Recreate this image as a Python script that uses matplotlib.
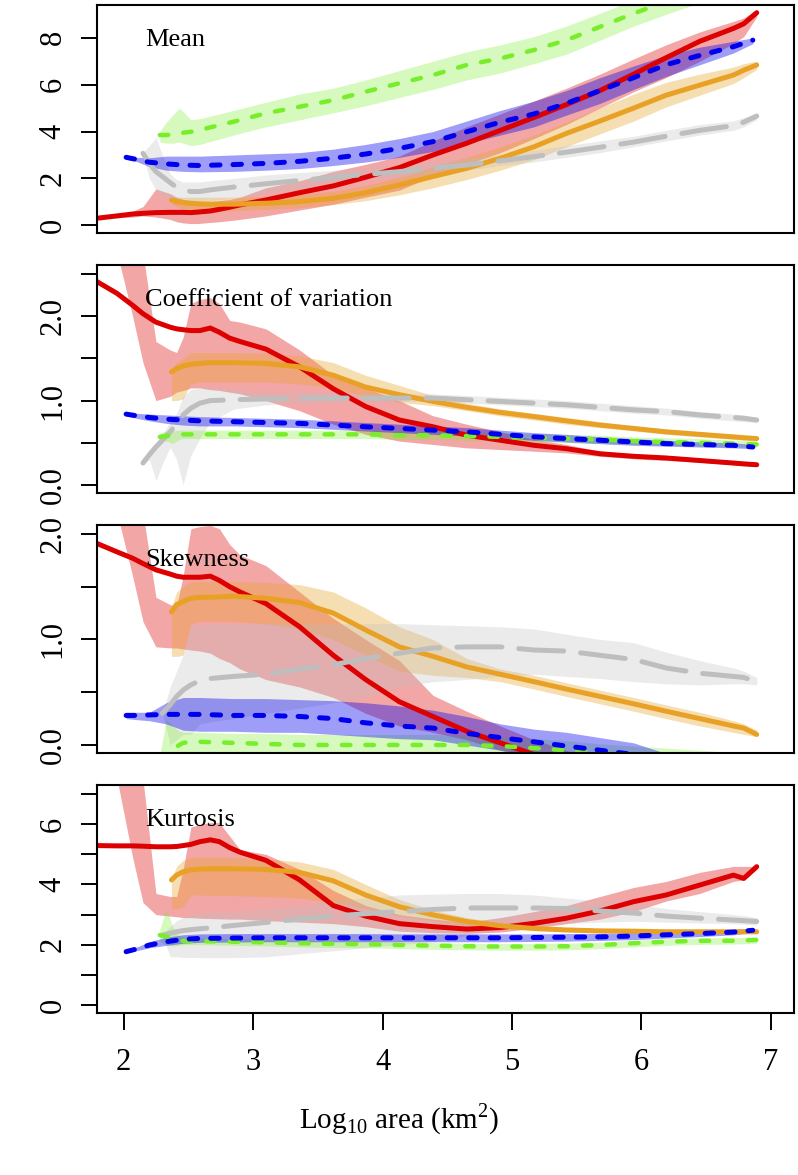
import numpy as np
import matplotlib
matplotlib.use("Agg")
import matplotlib.pyplot as plt

nan = np.nan

# x positions (log10 area) for each series
red_x = [1.795, 1.95, 2.07, 2.15, 2.25, 2.36, 2.41, 2.46, 2.52, 2.59, 2.67, 2.74, 2.82, 2.9, 3.1, 3.36,
         3.62, 3.87, 4.13, 4.39, 4.65, 4.91, 5.17, 5.42, 5.68, 5.94, 6.19, 6.45, 6.71, 6.79, 6.89]
blue_x = [2.02, 2.1, 2.2, 2.33, 2.46, 2.59, 2.85, 3.1, 3.36, 3.62, 3.87, 4.13, 4.39, 4.65, 4.91, 5.17,
          5.42, 5.68, 5.94, 6.19, 6.45, 6.71, 6.86]
gray_x = [2.15, 2.2, 2.25, 2.3, 2.36, 2.41, 2.46, 2.52, 2.59, 2.67, 2.85, 3.1, 3.36, 3.62, 3.87, 4.13,
          4.39, 4.65, 4.91, 5.17, 5.42, 5.68, 5.94, 6.19, 6.45, 6.71, 6.79, 6.89]
green_x = [2.28, 2.33, 2.38, 2.43, 2.46, 2.52, 2.59, 2.85, 3.1, 3.36, 3.62, 3.87, 4.13, 4.39, 4.65, 4.91,
           5.17, 5.42, 5.68, 5.94, 6.19, 6.45, 6.71, 6.89]
orange_x = [2.37, 2.41, 2.46, 2.52, 2.59, 2.67, 2.85, 3.1, 3.36, 3.62, 3.87, 4.13, 4.39, 4.65, 4.91, 5.17,
            5.42, 5.68, 5.94, 6.19, 6.45, 6.71, 6.79, 6.89]

# ---- Mean ----
mean_red = [0.30, 0.40, 0.48, 0.51, 0.54, 0.55, 0.55, 0.55, 0.54, 0.57, 0.61, 0.68, 0.77, 0.87, 1.08, 1.39,
            1.68, 2.05, 2.46, 3.0, 3.5, 4.05, 4.6, 5.15, 5.75, 6.45, 7.15, 7.85, 8.4, 8.6, 9.07]
mean_red_lo = [nan, 0.32, 0.35, 0.4, 0.35, 0.25, 0.15, 0.1, 0.07, 0.08, 0.12, 0.15, 0.2, 0.25, 0.4, 0.65,
               0.9, 1.2, 1.5, 2.1, 2.6, 3.1, 3.7, 4.3, 5.0, 5.7, 6.3, 7.0, 7.75, 8.05, 8.9]
mean_red_hi = [nan, 0.45, 0.6, 0.8, 1.55, 1.35, 1.2, 1.1, 1.0, 0.95, 1.0, 1.05, 1.1, 1.2, 1.6, 1.9,
               2.3, 2.6, 2.95, 3.6, 4.2, 4.75, 5.3, 5.85, 6.45, 7.1, 7.7, 8.25, 8.7, 8.85, 9.2]
mean_blue = [2.9, 2.81, 2.69, 2.62, 2.57, 2.55, 2.59, 2.64, 2.73, 2.86, 3.04, 3.28, 3.57, 3.99, 4.4, 4.75,
             5.2, 5.75, 6.3, 6.85, 7.25, 7.62, 7.9]
mean_blue_lo = [2.82, 2.72, 2.5, 2.35, 2.3, 2.28, 2.3, 2.35, 2.42, 2.55, 2.7, 2.9, 3.15, 3.5, 3.85, 4.2,
                4.7, 5.2, 5.8, 6.35, 6.85, 7.35, 7.75]
mean_blue_hi = [2.95, 2.9, 2.88, 2.95, 2.95, 2.95, 3.0, 3.05, 3.1, 3.25, 3.45, 3.7, 4.0, 4.45, 4.9, 5.3,
                5.75, 6.3, 6.8, 7.25, 7.6, 7.85, 8.0]
mean_gray = [3.07, 2.64, 2.29, 2.08, 1.82, 1.62, 1.51, 1.44, 1.44, 1.51, 1.63, 1.77, 1.91, 2.05, 2.17, 2.29,
             2.43, 2.57, 2.75, 2.93, 3.12, 3.33, 3.55, 3.8, 4.05, 4.25, 4.4, 4.66]
mean_gray_lo = [3.0, 2.0, 1.5, 1.2, 1.1, 1.05, 1.0, 1.0, 1.0, 1.05, 1.15, 1.35, 1.55, 1.8, 1.95, 2.05,
                2.2, 2.35, 2.55, 2.7, 2.9, 3.1, 3.35, 3.6, 3.85, 4.05, 4.2, 4.5]
mean_gray_hi = [3.1, 3.4, 3.75, 3.0, 2.2, 1.95, 1.85, 1.85, 1.85, 1.9, 2.0, 2.15, 2.25, 2.35, 2.45, 2.55,
                2.7, 2.85, 3.0, 3.2, 3.4, 3.6, 3.8, 4.05, 4.3, 4.45, 4.6, 4.8]
mean_green = [3.85, 3.85, 3.88, 3.92, 3.95, 3.99, 4.07, 4.42, 4.78, 5.06, 5.34, 5.7, 6.06, 6.41, 6.84, 7.12,
              7.48, 7.9, 8.47, 9.04, 9.54, 10.0, 10.5, 10.8]
mean_green_lo = [3.55, 3.5, 3.5, 3.55, 3.5, 3.4, 3.45, 3.85, 4.2, 4.5, 4.8, 5.1, 5.45, 5.8, 6.2, 6.5,
                 6.9, 7.3, 7.9, 8.5, 9.0, 9.5, 10.0, 10.3]
mean_green_hi = [4.0, 4.4, 4.7, 5.0, 4.85, 4.5, 4.55, 4.9, 5.25, 5.6, 5.85, 6.2, 6.6, 7.0, 7.4, 7.7,
                 8.05, 8.5, 9.05, 9.6, 10.1, 10.5, 11.0, 11.3]
mean_orange = [1.08, 1.01, 0.97, 0.94, 0.91, 0.9, 0.9, 0.94, 1.01, 1.15, 1.39, 1.72, 2.08, 2.43, 2.86, 3.35,
               3.92, 4.45, 5.0, 5.55, 5.98, 6.41, 6.62, 6.84]
mean_orange_lo = [0.95, 0.8, 0.7, 0.62, 0.6, 0.6, 0.62, 0.68, 0.75, 0.88, 1.05, 1.3, 1.6, 1.95, 2.35, 2.8,
                  3.35, 3.9, 4.45, 5.05, 5.55, 6.05, 6.3, 6.65]
mean_orange_hi = [1.15, 1.2, 1.2, 1.2, 1.2, 1.2, 1.2, 1.22, 1.3, 1.45, 1.7, 2.05, 2.5, 2.9, 3.35, 3.85,
                  4.4, 5.0, 5.6, 6.1, 6.45, 6.75, 6.9, 7.0]

# ---- Coefficient of variation ----
cv_red = [2.41, 2.27, 2.13, 2.03, 1.93, 1.87, 1.85, 1.84, 1.83, 1.83, 1.86, 1.81, 1.74, 1.7, 1.61, 1.4,
          1.14, 0.93, 0.77, 0.69, 0.59, 0.53, 0.47, 0.43, 0.37, 0.34, 0.32, 0.29, 0.26, 0.25, 0.24]
cv_red_lo = [nan, 2.75, 2.0, 1.45, 1.0, 1.05, 1.1, 1.12, 1.15, 1.15, 1.13, 1.12, 1.1, 1.08, 1.0, 0.88,
             0.72, 0.6, 0.52, 0.48, 0.44, 0.42, 0.4, 0.38, 0.34, 0.31, 0.29, 0.27, 0.24, 0.23, 0.22]
cv_red_hi = [nan, 2.75, 2.75, 2.75, 1.7, 1.6, 1.57, 1.75, 2.15, 2.2, 2.22, 2.15, 1.95, 1.93, 1.85, 1.6,
             1.3, 1.15, 1.0, 0.82, 0.72, 0.63, 0.54, 0.48, 0.4, 0.36, 0.34, 0.31, 0.28, 0.27, 0.26]
cv_blue = [0.84, 0.82, 0.8, 0.78, 0.77, 0.76, 0.75, 0.74, 0.73, 0.71, 0.69, 0.67, 0.65, 0.63, 0.6, 0.57,
           0.55, 0.53, 0.51, 0.49, 0.48, 0.47, 0.45]
cv_blue_lo = [0.82, 0.79, 0.76, 0.73, 0.71, 0.7, 0.7, 0.69, 0.68, 0.66, 0.64, 0.62, 0.6, 0.58, 0.56, 0.53,
              0.51, 0.49, 0.47, 0.46, 0.45, 0.44, 0.43]
cv_blue_hi = [0.86, 0.85, 0.84, 0.83, 0.82, 0.81, 0.8, 0.79, 0.78, 0.76, 0.74, 0.72, 0.7, 0.68, 0.65, 0.62,
              0.6, 0.57, 0.55, 0.53, 0.51, 0.5, 0.48]
cv_gray = [0.26, 0.36, 0.45, 0.53, 0.63, 0.73, 0.83, 0.91, 0.97, 1.0, 1.01, 1.02, 1.03, 1.03, 1.03, 1.03,
           1.03, 1.01, 0.99, 0.97, 0.95, 0.92, 0.89, 0.87, 0.83, 0.8, 0.79, 0.77]
cv_gray_lo = [0.25, 0.3, 0.05, 0.25, 0.45, 0.3, 0.0, 0.35, 0.55, 0.75, 0.9, 0.95, 0.97, 0.98, 0.99, 0.99,
              0.99, 0.97, 0.95, 0.93, 0.91, 0.88, 0.85, 0.83, 0.79, 0.76, 0.75, 0.74]
cv_gray_hi = [0.28, 0.4, 0.5, 0.6, 0.75, 0.85, 1.05, 1.13, 1.15, 1.15, 1.13, 1.1, 1.1, 1.09, 1.08, 1.08,
              1.08, 1.06, 1.04, 1.02, 1.0, 0.97, 0.94, 0.91, 0.87, 0.84, 0.83, 0.8]
cv_green = [0.57, 0.58, 0.59, 0.6, 0.6, 0.6, 0.6, 0.6, 0.6, 0.6, 0.6, 0.6, 0.59, 0.59, 0.58, 0.57,
            0.56, 0.55, 0.54, 0.52, 0.51, 0.5, 0.49, 0.48]
cv_green_lo = [0.52, 0.52, 0.49, 0.54, 0.55, 0.55, 0.55, 0.55, 0.55, 0.55, 0.55, 0.55, 0.54, 0.54, 0.53, 0.52,
               0.51, 0.5, 0.49, 0.48, 0.47, 0.46, 0.45, 0.45]
cv_green_hi = [0.62, 0.64, 0.64, 0.65, 0.65, 0.65, 0.65, 0.65, 0.65, 0.65, 0.65, 0.65, 0.64, 0.64, 0.63, 0.62,
               0.61, 0.6, 0.59, 0.57, 0.56, 0.55, 0.53, 0.52]
cv_orange = [1.34, 1.38, 1.41, 1.43, 1.44, 1.45, 1.45, 1.44, 1.4, 1.3, 1.16, 1.07, 0.99, 0.92, 0.86, 0.81,
             0.76, 0.71, 0.67, 0.63, 0.6, 0.57, 0.56, 0.55]
cv_orange_lo = [1.0, 1.0, 1.02, 1.2, 1.22, 1.22, 1.22, 1.22, 1.2, 1.15, 1.05, 0.98, 0.94, 0.88, 0.82, 0.77,
                0.72, 0.68, 0.64, 0.6, 0.57, 0.54, 0.53, 0.52]
cv_orange_hi = [1.35, 1.45, 1.5, 1.57, 1.57, 1.57, 1.57, 1.56, 1.53, 1.45, 1.3, 1.18, 1.06, 0.97, 0.9, 0.85,
                0.8, 0.75, 0.7, 0.66, 0.63, 0.6, 0.59, 0.58]

# ---- Skewness ----
skew_red = [1.91, 1.83, 1.77, 1.72, 1.66, 1.62, 1.6, 1.59, 1.59, 1.59, 1.6, 1.56, 1.5, 1.45, 1.34, 1.12,
            0.85, 0.62, 0.41, 0.27, 0.13, 0.02, -0.09, -0.18, -0.25, -0.3, -0.35, -0.4, -0.45, -0.46, -0.47]
skew_red_lo = [nan, 2.2, 1.6, 1.17, 0.93, 0.92, 0.92, 0.91, 0.9, 0.89, 0.87, 0.82, 0.78, 0.72, 0.62, 0.55,
               0.45, 0.3, 0.18, 0.12, 0.05, -0.05, -0.15, -0.25, -0.3, -0.35, -0.4, -0.45, -0.5, -0.5, -0.5]
skew_red_hi = [nan, 2.2, 2.2, 2.2, 1.4, 1.33, 1.32, 1.6, 2.05, 2.07, 2.08, 2.05, 1.9, 1.8, 1.7, 1.45,
               1.2, 1.0, 0.8, 0.47, 0.32, 0.18, 0.05, -0.05, -0.15, -0.2, -0.25, -0.3, -0.35, -0.4, -0.4]
skew_blue = [0.28, 0.28, 0.285, 0.29, 0.29, 0.29, 0.28, 0.28, 0.27, 0.25, 0.21, 0.18, 0.16, 0.11, 0.07, 0.03,
             -0.01, -0.05, -0.09, -0.12, -0.15, -0.18, -0.2]
skew_blue_lo = [0.25, 0.24, 0.23, 0.2, 0.14, 0.13, 0.13, 0.12, 0.12, 0.1, 0.08, 0.06, 0.05, 0.0, -0.05, -0.1,
                -0.15, -0.2, -0.25, -0.28, -0.3, -0.32, -0.34]
skew_blue_hi = [0.31, 0.31, 0.31, 0.4, 0.45, 0.45, 0.44, 0.44, 0.43, 0.42, 0.4, 0.37, 0.33, 0.27, 0.2, 0.15,
                0.12, 0.07, 0.02, -0.08, -0.1, -0.12, -0.14]
skew_gray = [nan, nan, nan, 0.3, 0.38, 0.46, 0.52, 0.57, 0.61, 0.63, 0.65, 0.67, 0.72, 0.76, 0.82, 0.87,
             0.92, 0.93, 0.93, 0.9, 0.89, 0.85, 0.81, 0.73, 0.68, 0.65, 0.64, 0.6]
skew_gray_lo = [nan, nan, nan, 0.3, 0.0, 0.05, 0.1, 0.1, 0.2, 0.22, 0.25, 0.3, 0.35, 0.4, 0.45, 0.55,
                0.6, 0.62, 0.65, 0.67, 0.65, 0.63, 0.6, 0.58, 0.57, 0.58, 0.58, 0.57]
skew_gray_hi = [nan, nan, nan, 0.3, 0.55, 0.7, 0.85, 1.13, 1.14, 1.15, 1.15, 1.15, 1.15, 1.15, 1.15, 1.15,
                1.14, 1.13, 1.12, 1.1, 1.05, 1.0, 0.97, 0.88, 0.8, 0.73, 0.7, 0.64]
skew_green = [-0.15, -0.1, -0.04, 0.0, 0.02, 0.03, 0.03, 0.02, 0.01, 0.0, 0.0, 0.0, 0.0, 0.0, 0.0, -0.01,
              -0.03, -0.05, -0.08, -0.1, -0.12, -0.14, -0.16, -0.18]
skew_green_lo = [-0.3, -0.25, -0.2, -0.15, -0.12, -0.1, -0.1, -0.1, -0.1, -0.1, -0.1, -0.1, -0.1, -0.1, -0.1, -0.12,
                 -0.14, -0.17, -0.2, -0.22, -0.25, -0.27, -0.3, -0.3]
skew_green_hi = [-0.1, 0.24, 0.18, 0.13, 0.12, 0.12, 0.12, 0.11, 0.11, 0.1, 0.1, 0.1, 0.1, 0.1, 0.09, 0.08,
                 0.06, 0.04, 0.01, -0.01, -0.03, -0.05, -0.07, -0.09]
skew_orange = [1.26, 1.33, 1.36, 1.39, 1.4, 1.4, 1.41, 1.39, 1.35, 1.25, 1.09, 0.93, 0.84, 0.74, 0.67, 0.6,
               0.53, 0.46, 0.39, 0.32, 0.25, 0.18, 0.16, 0.1]
skew_orange_lo = [0.84, 0.84, 0.85, 1.15, 1.17, 1.17, 1.17, 1.15, 1.1, 1.0, 0.85, 0.7, 0.66, 0.64, 0.6, 0.53,
                  0.46, 0.39, 0.32, 0.25, 0.18, 0.12, 0.1, 0.08]
skew_orange_hi = [1.3, 1.45, 1.5, 1.55, 1.55, 1.55, 1.55, 1.54, 1.52, 1.45, 1.3, 1.12, 1.0, 0.82, 0.72, 0.66,
                  0.59, 0.52, 0.45, 0.38, 0.31, 0.23, 0.2, 0.14]

# ---- Kurtosis ----
kurt_red = [5.29, 5.28, 5.28, 5.27, 5.25, 5.25, 5.26, 5.29, 5.33, 5.42, 5.48, 5.42, 5.22, 5.07, 4.8, 4.15,
            3.3, 2.95, 2.7, 2.6, 2.52, 2.57, 2.71, 2.88, 3.12, 3.43, 3.65, 3.98, 4.31, 4.2, 4.59]
kurt_red_lo = [nan, 7.5, 4.9, 3.4, 3.0, 2.95, 2.93, 2.9, 2.9, 2.88, 2.87, 2.86, 2.85, 2.85, 2.8, 2.75,
               2.7, 2.6, 2.45, 2.4, 2.38, 2.42, 2.55, 2.7, 2.85, 3.1, 3.45, 3.7, 4.1, 4.15, 4.5]
kurt_red_hi = [nan, 7.5, 7.5, 7.5, 3.7, 3.6, 3.6, 4.5, 5.9, 6.0, 6.05, 6.05, 5.6, 5.15, 5.0, 4.5,
               3.8, 3.3, 3.0, 2.85, 2.75, 2.9, 3.1, 3.3, 3.6, 3.9, 4.1, 4.4, 4.6, 4.6, 4.6]
kurt_blue = [1.77, 1.86, 1.99, 2.1, 2.18, 2.21, 2.22, 2.23, 2.23, 2.23, 2.23, 2.23, 2.23, 2.23, 2.23, 2.24,
             2.25, 2.26, 2.29, 2.33, 2.37, 2.42, 2.48]
kurt_blue_lo = [1.74, 1.8, 1.9, 1.98, 2.05, 2.08, 2.09, 2.1, 2.1, 2.1, 2.1, 2.1, 2.1, 2.1, 2.1, 2.11,
                2.12, 2.14, 2.17, 2.22, 2.27, 2.33, 2.4]
kurt_blue_hi = [1.8, 1.92, 2.1, 2.25, 2.33, 2.36, 2.37, 2.37, 2.37, 2.37, 2.37, 2.36, 2.36, 2.36, 2.36, 2.36,
                2.37, 2.38, 2.41, 2.44, 2.47, 2.51, 2.55]
kurt_gray = [nan, nan, nan, 2.32, 2.38, 2.43, 2.47, 2.5, 2.53, 2.56, 2.64, 2.74, 2.85, 2.95, 3.03, 3.1,
             3.17, 3.22, 3.22, 3.22, 3.2, 3.12, 3.05, 2.95, 2.88, 2.82, 2.8, 2.77]
kurt_gray_lo = [nan, nan, nan, 2.3, 1.6, 1.6, 1.58, 1.58, 1.57, 1.57, 1.57, 1.6, 1.7, 1.8, 1.9, 2.0,
                2.1, 2.3, 2.5, 2.6, 2.7, 2.75, 2.78, 2.75, 2.72, 2.7, 2.68, 2.65]
kurt_gray_hi = [nan, nan, nan, 2.35, 2.6, 2.8, 2.9, 3.0, 3.05, 3.08, 3.1, 3.2, 3.3, 3.45, 3.55, 3.65,
                3.68, 3.7, 3.7, 3.65, 3.55, 3.45, 3.35, 3.2, 3.1, 3.0, 2.97, 2.9]
kurt_green = [2.32, 2.27, 2.21, 2.16, 2.13, 2.12, 2.12, 2.1, 2.08, 2.05, 2.03, 2.02, 1.99, 1.97, 1.95, 1.94,
              1.94, 1.95, 1.99, 2.05, 2.1, 2.13, 2.13, 2.16]
kurt_green_lo = [2.1, 2.0, 1.95, 1.98, 2.0, 2.0, 2.0, 1.98, 1.96, 1.93, 1.91, 1.9, 1.87, 1.85, 1.83, 1.82,
                 1.82, 1.83, 1.87, 1.93, 1.98, 2.01, 2.02, 2.05]
kurt_green_hi = [2.5, 3.2, 2.6, 2.3, 2.25, 2.22, 2.22, 2.2, 2.18, 2.15, 2.13, 2.12, 2.09, 2.07, 2.05, 2.04,
                 2.04, 2.05, 2.09, 2.15, 2.2, 2.23, 2.24, 2.26]
kurt_orange = [4.15, 4.31, 4.42, 4.48, 4.51, 4.52, 4.52, 4.5, 4.4, 4.12, 3.65, 3.26, 2.99, 2.77, 2.63, 2.54,
               2.49, 2.46, 2.45, 2.43, 2.43, 2.43, 2.43, 2.43]
kurt_orange_lo = [3.2, 3.2, 3.25, 3.65, 3.65, 3.64, 3.63, 3.6, 3.55, 3.4, 3.2, 2.95, 2.8, 2.63, 2.53, 2.47,
                  2.43, 2.41, 2.4, 2.39, 2.39, 2.39, 2.39, 2.39]
kurt_orange_hi = [4.2, 4.6, 4.8, 4.9, 4.9, 4.9, 4.9, 4.85, 4.75, 4.5, 4.0, 3.5, 3.15, 2.9, 2.72, 2.6,
                  2.55, 2.5, 2.48, 2.47, 2.47, 2.47, 2.47, 2.47]

titles = ["Mean", "Coefficient of variation", "Skewness", "Kurtosis"]
ylims = [(-0.33, 9.4), (-0.095, 2.607), (-0.076, 2.085), (-0.265, 7.3)]
yticks = [[0, 2, 4, 6, 8], [0, 0.5, 1, 1.5, 2, 2.5], [0, 0.5, 1, 1.5, 2], [0, 1, 2, 3, 4, 5, 6, 7]]
yticklabels = [["0", "2", "4", "6", "8"], ["0.0", "", "1.0", "", "2.0", ""],
               ["0.0", "", "1.0", "", "2.0"], ["0", "", "2", "", "4", "", "6", ""]]
xticks = [2, 3, 4, 5, 6, 7]

plt.rcParams['font.family'] = ['Liberation Serif', 'DejaVu Serif']
plt.rcParams['mathtext.fontset'] = 'custom'
plt.rcParams['mathtext.rm'] = 'Liberation Serif'

red = '#DD0000'
orange = '#E8A125'
gray = '#BEBEBE'
green = '#78EE2A'
blue = '#0000EE'

panel_data = [
    [mean_red, mean_red_lo, mean_red_hi, mean_orange, mean_orange_lo, mean_orange_hi,
     mean_gray, mean_gray_lo, mean_gray_hi, mean_green, mean_green_lo, mean_green_hi,
     mean_blue, mean_blue_lo, mean_blue_hi],
    [cv_red, cv_red_lo, cv_red_hi, cv_orange, cv_orange_lo, cv_orange_hi,
     cv_gray, cv_gray_lo, cv_gray_hi, cv_green, cv_green_lo, cv_green_hi,
     cv_blue, cv_blue_lo, cv_blue_hi],
    [skew_red, skew_red_lo, skew_red_hi, skew_orange, skew_orange_lo, skew_orange_hi,
     skew_gray, skew_gray_lo, skew_gray_hi, skew_green, skew_green_lo, skew_green_hi,
     skew_blue, skew_blue_lo, skew_blue_hi],
    [kurt_red, kurt_red_lo, kurt_red_hi, kurt_orange, kurt_orange_lo, kurt_orange_hi,
     kurt_gray, kurt_gray_lo, kurt_gray_hi, kurt_green, kurt_green_lo, kurt_green_hi,
     kurt_blue, kurt_blue_lo, kurt_blue_hi],
]

# drawing order: red, orange, gray, green, blue (band first, then line)
xs = [red_x, orange_x, gray_x, green_x, blue_x]
cols = [red, orange, gray, green, blue]
alphas = [0.35, 0.35, 0.3, 0.3, 0.38]
lws = [3.6, 3.6, 3.6, 3.2, 3.6]
dash = [None, None, (9.0, 3.4), (1.9, 3.4), (1.7, 2.6)]

fig = plt.figure(figsize=(7.98, 11.75), dpi=100)
tops_px = [5, 265, 525, 785]
H = 228 / 1175
for i in range(4):
    bottom = 1 - (tops_px[i] + 228) / 1175
    ax = fig.add_axes([97 / 798, bottom, 697 / 798, H])
    d = panel_data[i]
    for k in range(5):
        x = np.array(xs[k])
        y = np.array(d[3 * k], dtype=float)
        lo = np.array(d[3 * k + 1], dtype=float)
        hi = np.array(d[3 * k + 2], dtype=float)
        ax.fill_between(x, lo, hi, color=cols[k], alpha=alphas[k], linewidth=0)
        if dash[k] is None:
            ax.plot(x, y, color=cols[k], lw=lws[k], solid_capstyle='round', solid_joinstyle='round')
        else:
            ax.plot(x, y, color=cols[k], lw=lws[k], dashes=dash[k], dash_capstyle='round',
                    dash_joinstyle='round')
    ax.set_xlim(1.795, 7.178)
    ax.set_ylim(*ylims[i])
    ax.set_yticks(yticks[i])
    ax.set_yticklabels(yticklabels[i])
    for lab in ax.get_yticklabels():
        lab.set_rotation(90)
        lab.set_va('center')
    ax.tick_params(axis='y', direction='out', length=11.5, width=1.4, labelsize=22, pad=9.5)
    if i == 3:
        ax.set_xticks(xticks)
        ax.tick_params(axis='x', direction='out', length=12, width=1.4, labelsize=22, pad=13)
    else:
        ax.set_xticks([])
    for s in ax.spines.values():
        s.set_linewidth(1.5)
    ax.text(48 / 697, 0.82, titles[i], transform=ax.transAxes, fontsize=19, ha='left', va='baseline')

fig.text(0.5, 1 - 1128 / 1175, r'Log$_{\mathrm{10}}$ area (km$^{\mathrm{2}}$)', fontsize=21,
         ha='center', va='baseline')

plt.savefig('out.png', dpi=100)
